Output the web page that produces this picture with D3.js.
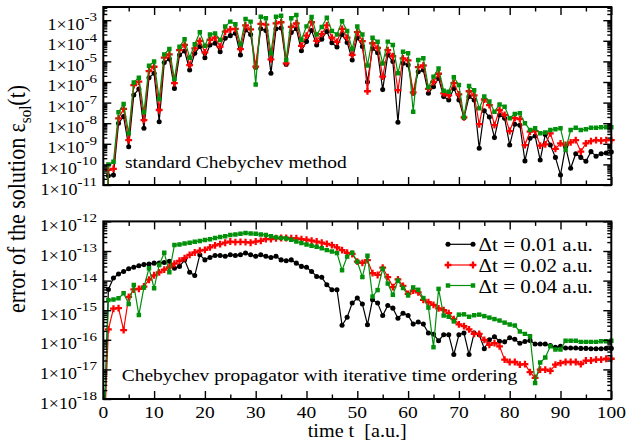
<!DOCTYPE html>
<html>
<head>
<meta charset="utf-8">
<script src="https://cdn.jsdelivr.net/npm/d3@7"></script>
<style>
  body { margin: 0; background: #fff; }
  text { font-family: "Liberation Serif", "Times New Roman", serif; fill: #000; }
</style>
</head>
<body>
<svg id="chart" width="628" height="444"></svg>
<script>
// time grid, one point per a.u.
var times = d3.range(0, 101);

// All values below are log10 of the error.
// t = 0 has no error, stored as -20 so the line drops out of the frame.

// standard Chebychev method
var topDt001 = [-20,
  -10.55, -10.52, -8.0, -7.68, -9.14, -6.63, -6.34, -8.25, -5.79, -5.58,
  -7.93, -5.05, -4.88, -6.31, -4.69, -4.5, -5.42, -4.61, -4.28, -4.82,
  -4.2, -4.12, -4.53, -3.88, -3.75, -3.64, -4.69, -3.48, -3.69, -5.3,
  -3.42, -3.5, -5.58, -3.42, -3.38, -5.15, -3.6, -3.42, -4.48, -4.04,
  -3.5, -4.2, -3.92, -3.55, -4.1, -4.3, -3.7, -4.08, -4.93, -3.85,
  -4.28, -6.0, -4.37, -4.58, -6.37, -4.69, -5.01, -7.95, -5.09, -5.17,
  -6.55, -5.5, -5.42, -6.55, -6.23, -5.82, -6.71, -6.87, -6.31, -6.87,
  -7.74, -6.71, -6.87, -9.22, -7.4, -7.7, -8.7, -7.6, -7.76, -9.06,
  -8.05, -8.1, -9.83, -8.73, -8.62, -9.79, -8.55, -9.06, -9.66, -10.51,
  -9.14, -10.19, -9.48, -9.66, -9.85, -9.38, -9.6, -9.48, -9.45, -9.4];

var topDt002 = [-20,
  -10.27, -10.22, -7.77, -7.31, -8.82, -6.15, -5.98, -7.85, -5.47, -5.26,
  -7.36, -4.82, -4.66, -6.06, -4.45, -4.2, -5.18, -4.37, -4.01, -4.56,
  -3.96, -3.85, -4.28, -3.56, -3.45, -3.42, -4.4, -3.25, -3.45, -5.25,
  -3.18, -3.22, -4.9, -3.15, -3.1, -5.1, -3.32, -3.15, -4.25, -3.75,
  -3.1, -4.0, -3.68, -3.25, -3.85, -4.05, -3.42, -3.85, -4.68, -3.58,
  -4.02, -6.45, -4.12, -4.35, -5.74, -4.45, -4.75, -6.39, -4.85, -4.95,
  -6.5, -5.28, -5.2, -6.33, -6.0, -5.6, -6.55, -6.65, -6.05, -6.6,
  -7.72, -6.45, -6.65, -8.05, -6.85, -7.12, -8.09, -7.36, -7.6, -8.38,
  -7.75, -7.8, -9.06, -8.41, -8.38, -9.09, -9.03, -8.49, -9.25, -8.98,
  -9.06, -8.93, -8.82, -9.38, -8.98, -8.87, -8.82, -8.85, -8.82, -8.82];

var topDt004 = [-20,
  -10.0, -9.87, -7.47, -7.07, -8.49, -6.02, -5.79, -7.47, -5.21, -5.01,
  -6.83, -4.66, -4.4, -5.86, -4.29, -3.93, -4.82, -4.17, -3.59, -4.24,
  -3.7, -3.64, -3.96, -3.31, -3.07, -3.2, -4.17, -2.94, -3.07, -6.12,
  -2.83, -2.91, -4.6, -2.83, -2.78, -4.93, -2.91, -2.75, -3.95, -3.3,
  -2.85, -3.7, -3.33, -2.88, -3.52, -3.7, -3.05, -3.52, -4.4, -3.31,
  -3.7, -5.2, -3.85, -4.05, -5.1, -4.04, -4.2, -5.58, -4.53, -4.61,
  -7.44, -4.93, -4.85, -6.26, -5.74, -5.34, -6.42, -6.47, -5.77, -6.15,
  -7.71, -6.19, -6.4, -7.28, -6.7, -6.95, -7.44, -7.09, -7.2, -7.76,
  -7.55, -7.52, -8.0, -8.33, -8.25, -8.49, -8.45, -8.33, -8.29, -8.25,
  -9.3, -8.33, -8.22, -8.33, -8.29, -8.22, -8.22, -8.2, -8.2, -8.2];

// Chebychev propagator with iterative time ordering
var botDt001 = [-20,
  -14.3, -13.91, -13.78, -13.69, -13.6, -13.55, -13.5, -13.46, -13.44, -13.41,
  -13.41, -13.39, -13.35, -13.58, -13.52, -13.3, -13.72, -13.83, -13.13, -13.3,
  -13.22, -13.15, -13.15, -13.18, -13.13, -13.15, -13.13, -13.07, -13.13, -13.18,
  -13.13, -13.18, -13.22, -13.18, -13.3, -13.33, -13.3, -13.41, -13.52, -13.55,
  -13.69, -13.86, -13.89, -14.14, -14.31, -14.31, -15.51, -15.24, -14.76, -14.59,
  -14.79, -15.49, -14.65, -14.76, -15.18, -14.84, -14.93, -15.27, -15.1, -15.18,
  -15.47, -15.4, -15.47, -15.77, -15.81, -16.03, -15.83, -15.83, -16.5, -15.83,
  -15.77, -16.5, -15.77, -15.83, -16.3, -16.0, -15.9, -16.05, -16.07, -15.93,
  -15.98, -16.12, -16.06, -16.02, -16.14, -16.14, -16.14, -16.19, -16.25, -16.22,
  -16.28, -16.28, -16.28, -16.29, -16.29, -16.3, -16.3, -16.3, -16.29, -16.29];

var botDt002 = [-20,
  -15.65, -14.95, -14.93, -15.67, -14.55, -14.3, -14.28, -14.2, -13.97, -13.82,
  -13.72, -13.63, -13.55, -13.43, -13.33, -13.24, -13.13, -13.05, -12.99, -12.96,
  -12.88, -12.81, -12.77, -12.72, -12.68, -12.7, -12.69, -12.7, -12.72, -12.68,
  -12.66, -12.6, -12.6, -12.57, -12.56, -12.56, -12.57, -12.57, -12.6, -12.62,
  -12.65, -12.68, -12.72, -12.76, -12.8, -12.88, -12.97, -13.06, -13.1, -13.36,
  -13.4, -13.31, -13.75, -13.81, -13.56, -13.88, -14.22, -13.96, -14.18, -14.45,
  -14.34, -14.4, -14.65, -14.73, -14.82, -14.94, -15.0, -15.1, -15.3, -15.48,
  -15.54, -15.65, -15.8, -15.8, -16.0, -16.17, -16.11, -16.22, -16.67, -16.75,
  -16.75, -16.84, -16.82, -17.09, -17.29, -17.01, -17.01, -17.05, -16.84, -16.79,
  -16.75, -16.75, -16.75, -16.82, -16.7, -16.7, -16.67, -16.67, -16.64, -16.64];

var botDt004 = [-20,
  -14.66, -14.64, -14.6, -14.43, -14.79, -14.15, -15.16, -14.23, -13.58, -14.26,
  -13.47, -13.06, -13.72, -12.8, -12.78, -12.75, -12.72, -12.69, -12.66, -12.63,
  -12.6, -12.56, -12.53, -12.5, -12.46, -12.44, -12.42, -12.39, -12.41, -12.42,
  -12.44, -12.46, -12.5, -12.54, -12.56, -12.58, -12.62, -12.68, -12.73, -12.78,
  -12.82, -12.86, -12.91, -12.97, -13.02, -13.07, -13.65, -13.19, -13.06, -13.36,
  -13.88, -13.16, -14.54, -14.32, -13.6, -14.1, -14.48, -14.0, -14.25, -14.5,
  -14.23, -14.31, -14.59, -14.91, -16.25, -14.28, -15.18, -15.22, -15.38, -15.15,
  -15.14, -15.22, -15.17, -15.15, -15.2, -15.25, -15.3, -15.35, -15.42, -15.48,
  -15.52, -15.72, -15.8, -15.88, -17.46, -16.77, -16.6, -16.22, -16.33, -16.33,
  -16.03, -16.03, -16.03, -16.07, -16.07, -16.07, -16.07, -16.05, -16.05, -16.03];

var seriesNames = ["\u0394t = 0.01 a.u.", "\u0394t = 0.02 a.u.", "\u0394t = 0.04 a.u."];
var xTicks = d3.range(0, 101, 10);
var topExponents = d3.range(-11, -2);   // 1x10^-11 .. 1x10^-3
var botExponents = d3.range(-18, -11);  // 1x10^-18 .. 1x10^-12
var topLabel = "standard Chebychev method";
var botLabel = "Chebychev propagator with iterative time ordering";

// ---------------------------------------------------------------

var svg = d3.select("#chart");
var sx = 1.12;               // the picture is a bit wider than tall
var colors = ["#000000", "#ff0000", "#00900a"];
var shapes = [d3.symbolCircle, d3.symbolCross, d3.symbolSquare];
var sizes = [20, 26, 20];

var x = d3.scaleLinear().domain([0, 100]).range([103.3, 611.3]);

var panels = [
  { series: [topDt001, topDt002, topDt004], exps: topExponents, label: topLabel,
    y: d3.scaleLog().domain([1e-11, Math.pow(10, -2.36)]).range([185, 7]),
    labelPos: [125, 168], id: "top" },
  { series: [botDt001, botDt002, botDt004], exps: botExponents, label: botLabel,
    y: d3.scaleLog().domain([1e-18, 1e-12]).range([399, 221.4]),
    labelPos: [121.7, 381], id: "bot" }
];

function stretched(parent, px, py, anchor, size) {
  return parent.append("text")
    .attr("transform", "translate(" + px + "," + py + ") scale(" + sx + ",1)")
    .attr("text-anchor", anchor)
    .attr("font-size", size);
}

panels.forEach(function(p) {
  var y = p.y;
  var y0 = y.range()[0], y1 = y.range()[1];
  var g = svg.append("g");

  // clip for the data
  svg.append("clipPath").attr("id", "clip-" + p.id)
    .append("rect")
    .attr("x", x(0)).attr("y", y1)
    .attr("width", x(100) - x(0) + 4).attr("height", y0 - y1);

  var data = g.append("g").attr("clip-path", "url(#clip-" + p.id + ")");

  var line = d3.line()
    .x(function(d, i) { return x(times[i]); })
    .y(function(d) { return y(Math.pow(10, d)); });

  p.series.forEach(function(s, k) {
    data.append("path")
      .attr("d", line(s))
      .attr("fill", "none")
      .attr("stroke", colors[k])
      .attr("stroke-width", 1.2);

    data.selectAll(".m" + k)
      .data(s.slice(1))
      .join("path")
      .attr("class", "m" + k)
      .attr("d", d3.symbol().type(shapes[k]).size(sizes[k]))
      .attr("transform", function(d, i) {
        return "translate(" + x(times[i + 1]) + "," + y(Math.pow(10, d)) + ")";
      })
      .attr("fill", colors[k]);
  });

  // ticks on all four sides, pointing inward
  var majors = p.exps.map(function(e) { return Math.pow(10, e); });
  var minors = [];
  for (var e = p.exps[0]; e <= p.exps[p.exps.length - 1] + 1; e++) {
    for (var m = 2; m <= 9; m++) {
      var v = m * Math.pow(10, e);
      if (v < y.domain()[1]) minors.push(v);
    }
  }
  var xMinor = d3.range(5, 100, 10);

  var axes = [
    [d3.axisLeft(y).tickValues(majors).tickSize(-8), x(0), 0],
    [d3.axisLeft(y).tickValues(minors).tickSize(-4), x(0), 0],
    [d3.axisRight(y).tickValues(majors).tickSize(-8), x(100), 0],
    [d3.axisRight(y).tickValues(minors).tickSize(-4), x(100), 0],
    [d3.axisBottom(x).tickValues(xTicks).tickSize(-8), 0, y0],
    [d3.axisBottom(x).tickValues(xMinor).tickSize(-4.5), 0, y0],
    [d3.axisTop(x).tickValues(xTicks).tickSize(-8), 0, y1],
    [d3.axisTop(x).tickValues(xMinor).tickSize(-4.5), 0, y1]
  ];
  axes.forEach(function(a) {
    var ag = g.append("g")
      .attr("transform", "translate(" + a[1] + "," + a[2] + ")")
      .call(a[0].tickFormat(""));
    ag.select(".domain").remove();
    ag.selectAll("line").attr("stroke", "#000").attr("stroke-width", 1.4);
  });

  // frame
  g.append("rect")
    .attr("x", x(0)).attr("y", y1)
    .attr("width", x(100) - x(0)).attr("height", y0 - y1)
    .attr("fill", "none").attr("stroke", "#000").attr("stroke-width", 2);

  // y tick labels 1x10^n
  p.exps.forEach(function(e) {
    var t = stretched(g, 97, y(Math.pow(10, e)) + 9.5, "end", 16);
    t.append("tspan").text("1\u00d710");
    t.append("tspan").attr("dy", -8.5).attr("font-size", 13.5).text(String(e));
  });

  // panel caption
  stretched(g, p.labelPos[0], p.labelPos[1], "start", 17.4).text(p.label);
});

// x tick labels under the lower panel
var yb = panels[1].y.range()[0];
xTicks.forEach(function(t) {
  stretched(svg, x(t), yb + 19, "middle", 17.4).text(t);
});

// axis titles
stretched(svg, (x(0) + x(100)) / 2, 437, "middle", 18).text("time t \u00a0[a.u.]");

var yt = svg.append("text")
  .attr("transform", "translate(25,199) rotate(-90) scale(1," + sx + ")")
  .attr("text-anchor", "middle")
  .attr("font-size", 22);
yt.append("tspan").text("error of the solution \u03b5");
yt.append("tspan").attr("font-size", 15).attr("dy", 5).text("sol");
yt.append("tspan").attr("dy", -5).text("(t)");

// legend
var legendY = [244.3, 265, 285.5];
var lg = svg.append("g");
seriesNames.forEach(function(name, k) {
  var ly = legendY[k];
  lg.append("line")
    .attr("x1", 448).attr("x2", 473).attr("y1", ly).attr("y2", ly)
    .attr("stroke", colors[k]).attr("stroke-width", 1.2);
  [448, 473].forEach(function(px) {
    lg.append("path")
      .attr("d", d3.symbol().type(shapes[k]).size(sizes[k]))
      .attr("transform", "translate(" + px + "," + ly + ")")
      .attr("fill", colors[k]);
  });
  stretched(lg, 478.5, ly + 7, "start", 18.8).text(name);
});
</script>
</body>
</html>
